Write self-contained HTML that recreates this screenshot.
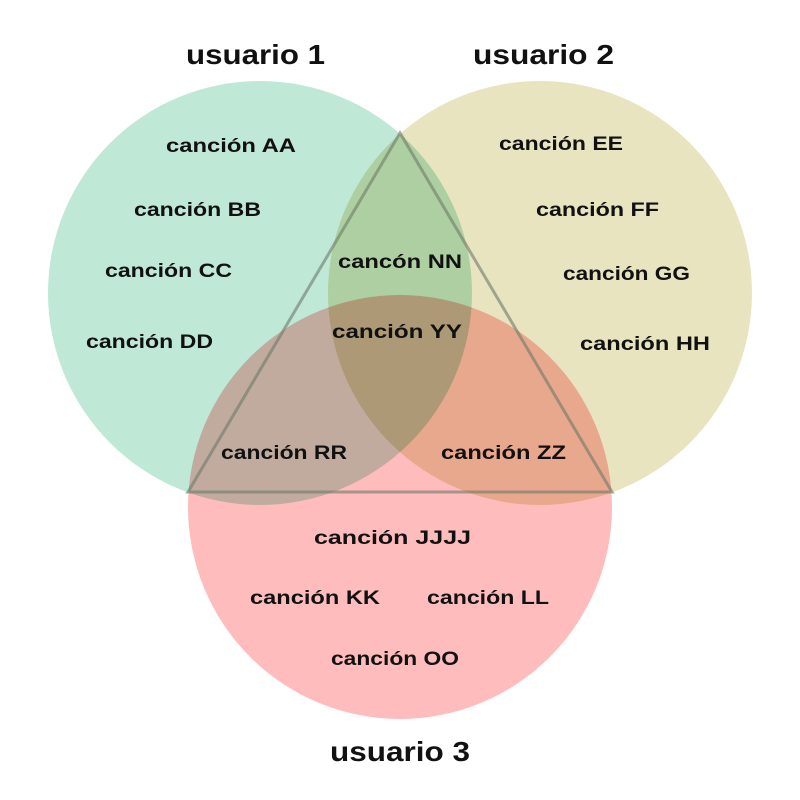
<!DOCTYPE html>
<html><head><meta charset="utf-8"><style>
html,body{margin:0;padding:0;background:#fff;width:800px;height:800px;overflow:hidden}
svg text{font-family:"Liberation Sans",sans-serif;font-weight:bold;fill:#111}
</style></head><body>
<svg width="800" height="800" viewBox="0 0 800 800" xmlns="http://www.w3.org/2000/svg">
<rect width="800" height="800" fill="#fff"/>
<g style="isolation:isolate">
<circle cx="260" cy="293" r="212" fill="#c0e8d6" style="mix-blend-mode:multiply"/>
<circle cx="540" cy="293" r="212" fill="#e8e4c0" style="mix-blend-mode:multiply"/>
<circle cx="400" cy="507" r="212" fill="#ffbcbc" style="mix-blend-mode:multiply"/>
</g>
<polygon points="400,133 188,492 612,492" fill="none" stroke="#6e7a6a" stroke-opacity="0.6" stroke-width="3"/>
<g font-size="28">
<text x="186" y="64" textLength="139" lengthAdjust="spacingAndGlyphs">usuario 1</text>
<text x="473" y="64" textLength="141" lengthAdjust="spacingAndGlyphs">usuario 2</text>
<text x="330" y="761" textLength="140" lengthAdjust="spacingAndGlyphs">usuario 3</text>
</g>
<g font-size="19">
<text x="166" y="152" textLength="130" lengthAdjust="spacingAndGlyphs">canción AA</text>
<text x="134" y="216" textLength="127" lengthAdjust="spacingAndGlyphs">canción BB</text>
<text x="105" y="277" textLength="127" lengthAdjust="spacingAndGlyphs">canción CC</text>
<text x="86" y="348" textLength="127" lengthAdjust="spacingAndGlyphs">canción DD</text>
<text x="499" y="150" textLength="124" lengthAdjust="spacingAndGlyphs">canción EE</text>
<text x="536" y="216" textLength="123" lengthAdjust="spacingAndGlyphs">canción FF</text>
<text x="563" y="280" textLength="127" lengthAdjust="spacingAndGlyphs">canción GG</text>
<text x="580" y="350" textLength="130" lengthAdjust="spacingAndGlyphs">canción HH</text>
<text x="338" y="268" textLength="124" lengthAdjust="spacingAndGlyphs">cancón NN</text>
<text x="332" y="338" textLength="130" lengthAdjust="spacingAndGlyphs">canción YY</text>
<text x="221" y="459" textLength="126" lengthAdjust="spacingAndGlyphs">canción RR</text>
<text x="441" y="459" textLength="125" lengthAdjust="spacingAndGlyphs">canción ZZ</text>
<text x="314" y="544" textLength="157" lengthAdjust="spacingAndGlyphs">canción JJJJ</text>
<text x="250" y="604" textLength="130" lengthAdjust="spacingAndGlyphs">canción KK</text>
<text x="427" y="604" textLength="122" lengthAdjust="spacingAndGlyphs">canción LL</text>
<text x="331" y="665" textLength="128" lengthAdjust="spacingAndGlyphs">canción OO</text>
</g>
</svg>
</body></html>
